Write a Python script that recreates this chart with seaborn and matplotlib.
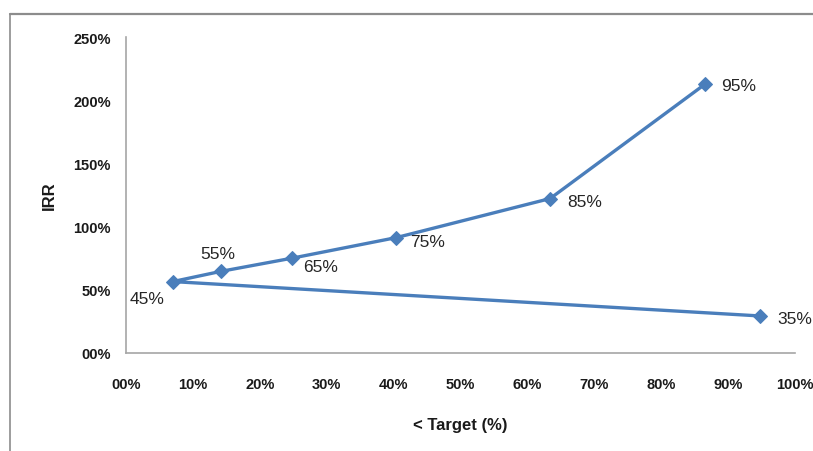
import matplotlib
matplotlib.use("Agg")
import matplotlib.pyplot as plt
import matplotlib.lines as mlines
from matplotlib.ticker import FuncFormatter, MultipleLocator
import seaborn as sns
import pandas as pd

# Threshold share below target (x) versus IRR (y), one point per level
levels = ["35%", "45%", "55%", "65%", "75%", "85%", "95%"]
below_target = [0.948, 0.070, 0.142, 0.248, 0.404, 0.634, 0.865]
irr = [0.293, 0.565, 0.646, 0.750, 0.913, 1.222, 2.125]

df = pd.DataFrame({"level": levels, "below": below_target, "irr": irr})

sns.set_theme(style="white")
plt.rcParams["font.family"] = ["Liberation Sans", "DejaVu Sans"]

BLUE = "#4A7EBB"
GREY = "#A6A6A6"

fig = plt.figure(figsize=(8.13, 4.52), dpi=100)
ax = fig.add_axes([126 / 813, 1 - 354 / 452, (795 - 126) / 813, (354 - 38) / 452])

sns.lineplot(data=df, x="below", y="irr", sort=False, ax=ax, color=BLUE,
             linewidth=2.4, marker="D", markersize=7.5, markeredgecolor=BLUE,
             estimator=None)

ax.set_xlim(0, 1.0)
ax.set_ylim(0, 2.5)
ax.xaxis.set_major_locator(MultipleLocator(0.1))
ax.yaxis.set_major_locator(MultipleLocator(0.5))
pct = FuncFormatter(lambda v, _: f"{round(v * 100):02d}%")
ax.xaxis.set_major_formatter(pct)
ax.yaxis.set_major_formatter(pct)

for side in ("top", "right"):
    ax.spines[side].set_visible(False)
for side in ("left", "bottom"):
    ax.spines[side].set_color(GREY)
    ax.spines[side].set_linewidth(1.2)

ax.tick_params(axis="both", which="major", direction="out", length=5, width=1,
               color=GREY, labelsize=10.5, labelcolor="#1a1a1a")
ax.tick_params(axis="x", pad=12)
ax.tick_params(axis="y", pad=6)
for lbl in ax.get_xticklabels() + ax.get_yticklabels():
    lbl.set_fontweight("bold")

ax.set_xlabel("< Target (%)", fontsize=12, fontweight="bold", labelpad=19,
              color="#1a1a1a")
ax.set_ylabel("IRR", fontsize=12, fontweight="bold", labelpad=12,
              color="#1a1a1a")

# Data labels: text offset in points from each marker
offsets = {
    "35%": (12, -2, "left", "center"),
    "45%": (-6, -12, "right", "center"),
    "55%": (-2, 13, "center", "center"),
    "65%": (8, -6, "left", "center"),
    "75%": (10, -3, "left", "center"),
    "85%": (12, -2, "left", "center"),
    "95%": (12, -1, "left", "center"),
}
for lab, xv, yv in zip(levels, below_target, irr):
    dx, dy, ha, va = offsets[lab]
    ax.annotate(lab, (xv, yv), xytext=(dx, dy), textcoords="offset points",
                ha=ha, va=va, fontsize=12.5, color="#262626")

# Outer chart-area frame (top and left edges)
fig.add_artist(mlines.Line2D([9.5 / 813, 1.0], [1 - 15 / 452, 1 - 15 / 452],
                             transform=fig.transFigure, color="#8C8C8C",
                             linewidth=1.6))
fig.add_artist(mlines.Line2D([9.5 / 813, 9.5 / 813], [0, 1 - 15 / 452],
                             transform=fig.transFigure, color="#8C8C8C",
                             linewidth=1.2))

fig.savefig("out.png", dpi=100)
